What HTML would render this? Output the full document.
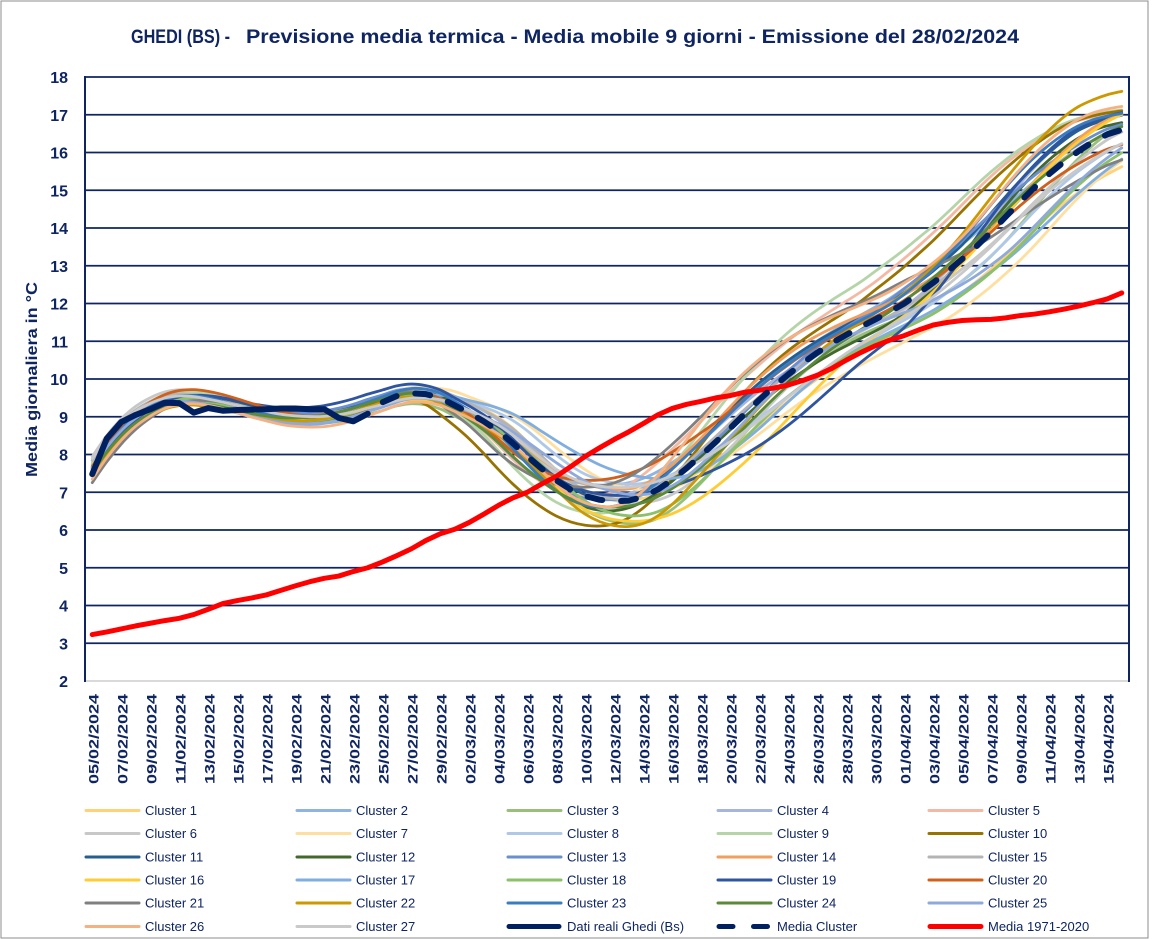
<!DOCTYPE html>
<html><head><meta charset="utf-8">
<style>
html,body{margin:0;padding:0;background:#fff;}
svg{display:block;}
text{font-family:"Liberation Sans",Arial,sans-serif;fill:#0f2562;}
</style></head><body>
<svg id="c" width="1153" height="939" viewBox="0 0 1153 939" xmlns="http://www.w3.org/2000/svg">
<rect x="0" y="0" width="1153" height="939" fill="#fff"/>
<rect x="1" y="1" width="1147" height="937" fill="none" stroke="#8c8c8c" stroke-width="1"/>

<text x="131" y="43" font-size="19" font-weight="bold" textLength="99" lengthAdjust="spacingAndGlyphs">GHEDI (BS) -</text>
<text x="246" y="43" font-size="19" font-weight="bold" textLength="773" lengthAdjust="spacingAndGlyphs">Previsione media termica - Media mobile 9 giorni - Emissione del 28/02/2024</text>

<g stroke="#0f2562" stroke-width="1.8">
<line x1="85" y1="77" x2="1129" y2="77"/>
<line x1="85" y1="114.75" x2="1129" y2="114.75"/>
<line x1="85" y1="152.5" x2="1129" y2="152.5"/>
<line x1="85" y1="190.25" x2="1129" y2="190.25"/>
<line x1="85" y1="228" x2="1129" y2="228"/>
<line x1="85" y1="265.75" x2="1129" y2="265.75"/>
<line x1="85" y1="303.5" x2="1129" y2="303.5"/>
<line x1="85" y1="341.25" x2="1129" y2="341.25"/>
<line x1="85" y1="379" x2="1129" y2="379"/>
<line x1="85" y1="416.75" x2="1129" y2="416.75"/>
<line x1="85" y1="454.5" x2="1129" y2="454.5"/>
<line x1="85" y1="492.25" x2="1129" y2="492.25"/>
<line x1="85" y1="530" x2="1129" y2="530"/>
<line x1="85" y1="567.75" x2="1129" y2="567.75"/>
<line x1="85" y1="605.5" x2="1129" y2="605.5"/>
<line x1="85" y1="643.25" x2="1129" y2="643.25"/>
</g>
<line x1="85" y1="681" x2="1129" y2="681" stroke="#d9d9d9" stroke-width="2"/>
<line x1="85" y1="76" x2="85" y2="682" stroke="#0f2562" stroke-width="2"/>
<line x1="1129" y1="76" x2="1129" y2="682" stroke="#0f2562" stroke-width="2"/>

<g font-size="16" font-weight="bold" text-anchor="end">
<text x="68" y="83">18</text>
<text x="68" y="120.75">17</text>
<text x="68" y="158.5">16</text>
<text x="68" y="196.25">15</text>
<text x="68" y="234">14</text>
<text x="68" y="271.75">13</text>
<text x="68" y="309.5">12</text>
<text x="68" y="347.25">11</text>
<text x="68" y="385">10</text>
<text x="68" y="422.75">9</text>
<text x="68" y="460.5">8</text>
<text x="68" y="498.25">7</text>
<text x="68" y="536">6</text>
<text x="68" y="573.75">5</text>
<text x="68" y="611.5">4</text>
<text x="68" y="649.25">3</text>
<text x="68" y="687">2</text>
</g>

<text transform="translate(37,379.5) rotate(-90)" font-size="16" font-weight="bold" text-anchor="middle" textLength="195" lengthAdjust="spacingAndGlyphs">Media giornaliera in °C</text>

<g font-size="14" font-weight="bold" text-anchor="end">
<text transform="translate(98.25,694) rotate(-90)" textLength="90" lengthAdjust="spacingAndGlyphs">05/02/2024</text>
<text transform="translate(127.25,694) rotate(-90)" textLength="90" lengthAdjust="spacingAndGlyphs">07/02/2024</text>
<text transform="translate(156.25,694) rotate(-90)" textLength="90" lengthAdjust="spacingAndGlyphs">09/02/2024</text>
<text transform="translate(185.25,694) rotate(-90)" textLength="90" lengthAdjust="spacingAndGlyphs">11/02/2024</text>
<text transform="translate(214.25,694) rotate(-90)" textLength="90" lengthAdjust="spacingAndGlyphs">13/02/2024</text>
<text transform="translate(243.25,694) rotate(-90)" textLength="90" lengthAdjust="spacingAndGlyphs">15/02/2024</text>
<text transform="translate(272.25,694) rotate(-90)" textLength="90" lengthAdjust="spacingAndGlyphs">17/02/2024</text>
<text transform="translate(301.25,694) rotate(-90)" textLength="90" lengthAdjust="spacingAndGlyphs">19/02/2024</text>
<text transform="translate(330.25,694) rotate(-90)" textLength="90" lengthAdjust="spacingAndGlyphs">21/02/2024</text>
<text transform="translate(359.25,694) rotate(-90)" textLength="90" lengthAdjust="spacingAndGlyphs">23/02/2024</text>
<text transform="translate(388.25,694) rotate(-90)" textLength="90" lengthAdjust="spacingAndGlyphs">25/02/2024</text>
<text transform="translate(417.25,694) rotate(-90)" textLength="90" lengthAdjust="spacingAndGlyphs">27/02/2024</text>
<text transform="translate(446.25,694) rotate(-90)" textLength="90" lengthAdjust="spacingAndGlyphs">29/02/2024</text>
<text transform="translate(475.25,694) rotate(-90)" textLength="90" lengthAdjust="spacingAndGlyphs">02/03/2024</text>
<text transform="translate(504.25,694) rotate(-90)" textLength="90" lengthAdjust="spacingAndGlyphs">04/03/2024</text>
<text transform="translate(533.25,694) rotate(-90)" textLength="90" lengthAdjust="spacingAndGlyphs">06/03/2024</text>
<text transform="translate(562.25,694) rotate(-90)" textLength="90" lengthAdjust="spacingAndGlyphs">08/03/2024</text>
<text transform="translate(591.25,694) rotate(-90)" textLength="90" lengthAdjust="spacingAndGlyphs">10/03/2024</text>
<text transform="translate(620.25,694) rotate(-90)" textLength="90" lengthAdjust="spacingAndGlyphs">12/03/2024</text>
<text transform="translate(649.25,694) rotate(-90)" textLength="90" lengthAdjust="spacingAndGlyphs">14/03/2024</text>
<text transform="translate(678.25,694) rotate(-90)" textLength="90" lengthAdjust="spacingAndGlyphs">16/03/2024</text>
<text transform="translate(707.25,694) rotate(-90)" textLength="90" lengthAdjust="spacingAndGlyphs">18/03/2024</text>
<text transform="translate(736.25,694) rotate(-90)" textLength="90" lengthAdjust="spacingAndGlyphs">20/03/2024</text>
<text transform="translate(765.25,694) rotate(-90)" textLength="90" lengthAdjust="spacingAndGlyphs">22/03/2024</text>
<text transform="translate(794.25,694) rotate(-90)" textLength="90" lengthAdjust="spacingAndGlyphs">24/03/2024</text>
<text transform="translate(823.25,694) rotate(-90)" textLength="90" lengthAdjust="spacingAndGlyphs">26/03/2024</text>
<text transform="translate(852.25,694) rotate(-90)" textLength="90" lengthAdjust="spacingAndGlyphs">28/03/2024</text>
<text transform="translate(881.25,694) rotate(-90)" textLength="90" lengthAdjust="spacingAndGlyphs">30/03/2024</text>
<text transform="translate(910.25,694) rotate(-90)" textLength="90" lengthAdjust="spacingAndGlyphs">01/04/2024</text>
<text transform="translate(939.25,694) rotate(-90)" textLength="90" lengthAdjust="spacingAndGlyphs">03/04/2024</text>
<text transform="translate(968.25,694) rotate(-90)" textLength="90" lengthAdjust="spacingAndGlyphs">05/04/2024</text>
<text transform="translate(997.25,694) rotate(-90)" textLength="90" lengthAdjust="spacingAndGlyphs">07/04/2024</text>
<text transform="translate(1026.25,694) rotate(-90)" textLength="90" lengthAdjust="spacingAndGlyphs">09/04/2024</text>
<text transform="translate(1055.25,694) rotate(-90)" textLength="90" lengthAdjust="spacingAndGlyphs">11/04/2024</text>
<text transform="translate(1084.25,694) rotate(-90)" textLength="90" lengthAdjust="spacingAndGlyphs">13/04/2024</text>
<text transform="translate(1113.25,694) rotate(-90)" textLength="90" lengthAdjust="spacingAndGlyphs">15/04/2024</text>
</g>

<g id="clusters" fill="none" stroke-width="2.8" stroke-linecap="round" stroke-linejoin="round"></g>

<polyline fill="none" stroke="#ff0000" stroke-width="5" stroke-linecap="round" stroke-linejoin="round" vector-effect="non-scaling-stroke" transform="matrix(14.5,0,0,-37.75,92.25,756.5)" points="0,3.23 1,3.30 2,3.38 3,3.46 4,3.53 5,3.60 6,3.66 7,3.76 8,3.90 9,4.05 10,4.13 11,4.20 12,4.28 13,4.40 14,4.52 15,4.63 16,4.72 17,4.78 18,4.90 19,5.00 20,5.15 21,5.32 22,5.50 23,5.72 24,5.90 25,6.02 26,6.20 27,6.42 28,6.65 29,6.85 30,7.00 31,7.22 32,7.42 33,7.68 34,7.95 35,8.18 36,8.40 37,8.60 38,8.82 39,9.05 40,9.22 41,9.33 42,9.41 43,9.50 44,9.56 45,9.65 46,9.70 47,9.76 48,9.84 49,9.96 50,10.10 51,10.28 52,10.50 53,10.70 54,10.88 55,11.03 56,11.15 57,11.30 58,11.43 59,11.50 60,11.55 61,11.57 62,11.58 63,11.62 64,11.68 65,11.72 66,11.78 67,11.85 68,11.93 69,12.02 70,12.12 71,12.28"/>

<polyline fill="none" stroke="#002060" stroke-width="6" stroke-linecap="round" stroke-linejoin="round" vector-effect="non-scaling-stroke" transform="matrix(14.5,0,0,-37.75,92.25,756.5)" points="0,7.48 1,8.42 2,8.86 3,9.05 4,9.2 5,9.37 6,9.36 7,9.11 8,9.23 9,9.16 10,9.18 11,9.19 12,9.2 13,9.22 14,9.22 15,9.2 16,9.2 17,8.97 18,8.88 19,9.08"/>

<polyline fill="none" stroke="#002060" stroke-width="6" stroke-linecap="round" stroke-linejoin="round" stroke-dasharray="15 19" stroke-dashoffset="15" points="367.75,413.7 382.25,402.4 396.75,396.0 411.25,393.3 425.75,394.1 440.25,397.9 454.75,405.4 469.25,413.0 483.75,421.3 498.25,431.1 512.75,443.2 527.25,456.4 541.75,468.8 556.25,480.2 570.75,489.6 585.25,496.0 599.75,499.8 614.25,501.3 628.75,500.6 643.25,496.8 657.75,489.6 672.25,479.8 686.75,468.1 701.25,455.3 715.75,442.0 730.25,428.1 744.75,413.7 759.25,399.8 773.75,386.6 788.25,374.5 802.75,363.1 817.25,352.6 831.75,343.1 846.25,334.8 860.75,326.9 875.25,319.4 889.75,311.8 904.25,303.5 918.75,293.3 933.25,282.7 947.75,271.4 962.25,259.0 976.75,246.1 991.25,231.8 1005.75,216.7 1020.25,201.6 1034.75,187.2 1049.25,174.0 1063.75,161.9 1078.25,151.4 1092.75,141.9 1107.25,134.4 1121.75,129.8"/>

<!-- Legend -->
<g id="legend" stroke-width="3" stroke-linecap="round">
<line x1="86" y1="810.5" x2="139" y2="810.5" stroke="#FFD27A"/>
<line x1="297" y1="810.5" x2="350" y2="810.5" stroke="#8DB4E2"/>
<line x1="508" y1="810.5" x2="561" y2="810.5" stroke="#98C07A"/>
<line x1="718" y1="810.5" x2="771" y2="810.5" stroke="#A6B5DC"/>
<line x1="929" y1="810.5" x2="982" y2="810.5" stroke="#F4B9A4"/>

<line x1="86" y1="833.5" x2="139" y2="833.5" stroke="#C8C8C8"/>
<line x1="297" y1="833.5" x2="350" y2="833.5" stroke="#FFDFA0"/>
<line x1="508" y1="833.5" x2="561" y2="833.5" stroke="#AFC8E8"/>
<line x1="718" y1="833.5" x2="771" y2="833.5" stroke="#B5D5A8"/>
<line x1="929" y1="833.5" x2="982" y2="833.5" stroke="#997300"/>

<line x1="86" y1="857" x2="139" y2="857" stroke="#255E91"/>
<line x1="297" y1="857" x2="350" y2="857" stroke="#43682B"/>
<line x1="508" y1="857" x2="561" y2="857" stroke="#6A8FD0"/>
<line x1="718" y1="857" x2="771" y2="857" stroke="#F19E5E"/>
<line x1="929" y1="857" x2="982" y2="857" stroke="#B4B4B4"/>

<line x1="86" y1="880" x2="139" y2="880" stroke="#FFCC33"/>
<line x1="297" y1="880" x2="350" y2="880" stroke="#80AEE0"/>
<line x1="508" y1="880" x2="561" y2="880" stroke="#8CC06A"/>
<line x1="718" y1="880" x2="771" y2="880" stroke="#2F55A0"/>
<line x1="929" y1="880" x2="982" y2="880" stroke="#D0601A"/>

<line x1="86" y1="903" x2="139" y2="903" stroke="#808080"/>
<line x1="297" y1="903" x2="350" y2="903" stroke="#CC9900"/>
<line x1="508" y1="903" x2="561" y2="903" stroke="#3A7CC0"/>
<line x1="718" y1="903" x2="771" y2="903" stroke="#5A8A3A"/>
<line x1="929" y1="903" x2="982" y2="903" stroke="#8EA9DB"/>

<line x1="86" y1="926.5" x2="139" y2="926.5" stroke="#F4B183"/>
<line x1="297" y1="926.5" x2="350" y2="926.5" stroke="#C9C9C9"/>
<line x1="509" y1="926.5" x2="559" y2="926.5" stroke="#002060" stroke-width="5"/>
<line x1="719" y1="926.5" x2="733" y2="926.5" stroke="#002060" stroke-width="5"/>
<line x1="753.5" y1="926.5" x2="767.5" y2="926.5" stroke="#002060" stroke-width="5"/>
<line x1="930" y1="926.5" x2="981" y2="926.5" stroke="#ff0000" stroke-width="5"/>
</g>
<g font-size="13">
<text x="145" y="815">Cluster 1</text>
<text x="356" y="815">Cluster 2</text>
<text x="567" y="815">Cluster 3</text>
<text x="777" y="815">Cluster 4</text>
<text x="988" y="815">Cluster 5</text>
<text x="145" y="838">Cluster 6</text>
<text x="356" y="838">Cluster 7</text>
<text x="567" y="838">Cluster 8</text>
<text x="777" y="838">Cluster 9</text>
<text x="988" y="838">Cluster 10</text>
<text x="145" y="861.5">Cluster 11</text>
<text x="356" y="861.5">Cluster 12</text>
<text x="567" y="861.5">Cluster 13</text>
<text x="777" y="861.5">Cluster 14</text>
<text x="988" y="861.5">Cluster 15</text>
<text x="145" y="884.5">Cluster 16</text>
<text x="356" y="884.5">Cluster 17</text>
<text x="567" y="884.5">Cluster 18</text>
<text x="777" y="884.5">Cluster 19</text>
<text x="988" y="884.5">Cluster 20</text>
<text x="145" y="907.5">Cluster 21</text>
<text x="356" y="907.5">Cluster 22</text>
<text x="567" y="907.5">Cluster 23</text>
<text x="777" y="907.5">Cluster 24</text>
<text x="988" y="907.5">Cluster 25</text>
<text x="145" y="931">Cluster 26</text>
<text x="356" y="931">Cluster 27</text>
<text x="567" y="931">Dati reali Ghedi (Bs)</text>
<text x="777" y="931">Media Cluster</text>
<text x="988" y="931">Media 1971-2020</text>
</g>
</svg>
<script>
(function(){
var B=[7.6,8.15,8.6,8.95,9.2,9.38,9.47,9.48,9.43,9.35,9.25,9.15,9.07,9.0,8.97,8.97,9.0,9.07,9.17,9.3,
9.42,9.55,9.62,9.6,9.5,9.3,9.1,8.88,8.62,8.3,7.95,7.62,7.32,7.07,6.9,6.8,6.76,6.78,6.88,7.07,
7.33,7.64,7.98,8.33,8.7,9.08,9.45,9.8,10.12,10.42,10.7,10.95,11.17,11.38,11.58,11.78,12.0,12.27,12.55,12.85,
13.18,13.52,13.9,14.3,14.7,15.08,15.43,15.75,16.03,16.28,16.48,16.6,16.7,16.77,16.82,16.85,16.87];
var P=[
["#FFD27A",-1,-1.5,-2, 0.1,0,0,0.1,-0.2,-0.7],
["#8DB4E2",0.5,0.5,0, 0.2,0.1,0.1,0.4,0.2,0.2],
["#98C07A",-0.5,-0.5,-1, -0.1,-0.1,-0.2,-0.6,-0.2,0.2],
["#A6B5DC",0,0,0.5, 0.1,0.05,0.1,0.2,0,0.3],
["#F4B9A4",1,2.5,2, 0,0.1,0,0.1,0.5,0.4],
["#C8C8C8",-0.5,-1,-0.5, 0.4,0.1,0,0,-0.1,0],
["#FFDFA0",-1.5,-3,-3, 0.2,0,0.1,0.3,-0.3,-0.3],
["#AFC8E8",-1,-1.5,-1.5, 0.1,-0.15,0,0.4,-0.1,-0.2],
["#B5D5A8",1,3,2.5, 0.2,0.1,0,-0.3,0.6,0.3],
["#997300",1.5,2.5,3, -0.2,-0.05,-0.2,-0.65,0.1,0.35],
["#255E91",0.5,1,1.5, 0,0.1,0.15,0,0,0.2],
["#43682B",0,0.5,0.5, -0.1,0,0,-0.2,-0.3,0.1],
["#6A8FD0",0.5,0.5,0.5, 0,0.1,0.1,0,0.1,0.2],
["#F19E5E",0.5,1,0.5, 0,0,0,0.3,0,0.3],
["#B4B4B4",-0.5,-0.5,0, 0.2,0.05,0.05,0.1,0.1,-0.1],
["#FFCC33",-1.5,-2,-1, -0.1,-0.1,-0.1,-0.6,-0.1,0.6],
["#80AEE0",-1.5,-2.5,-2, 0.1,-0.2,-0.1,0.7,-0.2,-0.4],
["#8CC06A",-1,-1.5,-2, 0,0,-0.1,-0.4,-0.2,-0.3],
["#2F55A0",0.5,-2.5,1.5, 0,0.15,0.3,0.1,-0.6,0.3],
["#D0601A",1.5,0.5,0, 0.1,0.2,0,0.6,0,-0.4],
["#808080",2,2,0, -0.4,0.1,0,0.4,0.3,-0.7],
["#CC9900",-0.5,0,2, -0.1,-0.2,0,-0.7,0,0.8],
["#3A7CC0",0.5,1,1, 0,0.05,0.1,-0.1,0.1,0.3],
["#5A8A3A",0,0,0, -0.1,-0.05,0,-0.2,-0.1,0.2],
["#8EA9DB",-0.5,-1,-1.5, 0.1,-0.2,-0.1,0.2,0,-0.3],
["#F4B183",0,2.5,1, -0.3,-0.1,-0.3,-0.1,0.3,0.5],
["#C9C9C9",-0.5,-1,-1, 0.3,0.05,-0.1,0.3,-0.2,-0.2]
];
function Bf(t){t=Math.max(0,Math.min(B.length-1,t));var a=Math.min(Math.floor(t),B.length-2),f=t-a;return B[a]*(1-f)+B[a+1]*f;}
function interp(xs,ys,x){if(x<=xs[0])return ys[0];for(var j=0;j<xs.length-1;j++){if(x<=xs[j+1]){var f=(x-xs[j])/(xs[j+1]-xs[j]);f=(1-Math.cos(Math.PI*f))/2;return ys[j]*(1-f)+ys[j+1]*f;}}return ys[ys.length-1];}
var g=document.getElementById('clusters');var NS="http://www.w3.org/2000/svg";
for(var k=0;k<P.length;k++){
 var p=P[k];var pts=[];
 for(var i=0;i<72;i++){
  var d=interp([0,18,30,48,62,71],[0,0,p[1],p[2],p[3],p[3]],i);
  var ramp=interp([0,18,30,71],[0,0,1,1],i);
  d+=0.5*Math.sin(0.22*i+k*1.7)*ramp;
  var o=interp([0,10,20,36,55,71],[p[4],p[5],p[6],p[7],p[8],p[9]],i);
  o+=0.06*Math.sin(0.3*i+k*2.3);
  var v=Bf(i+d)+o;
  pts.push([92.25+14.5*i,756.5-37.75*v]);
 }
 var s="M"+pts[0][0].toFixed(2)+","+pts[0][1].toFixed(2);
 for(var j=0;j<pts.length-1;j++){
  var p0=pts[Math.max(0,j-1)],p1=pts[j],p2=pts[j+1],p3=pts[Math.min(pts.length-1,j+2)];
  var c1x=p1[0]+(p2[0]-p0[0])/6,c1y=p1[1]+(p2[1]-p0[1])/6;
  var c2x=p2[0]-(p3[0]-p1[0])/6,c2y=p2[1]-(p3[1]-p1[1])/6;
  s+=" C"+c1x.toFixed(2)+","+c1y.toFixed(2)+" "+c2x.toFixed(2)+","+c2y.toFixed(2)+" "+p2[0].toFixed(2)+","+p2[1].toFixed(2);
 }
 var path=document.createElementNS(NS,"path");
 path.setAttribute("d",s);path.setAttribute("stroke",p[0]);
 g.appendChild(path);
}
})();
</script>
</body></html>
